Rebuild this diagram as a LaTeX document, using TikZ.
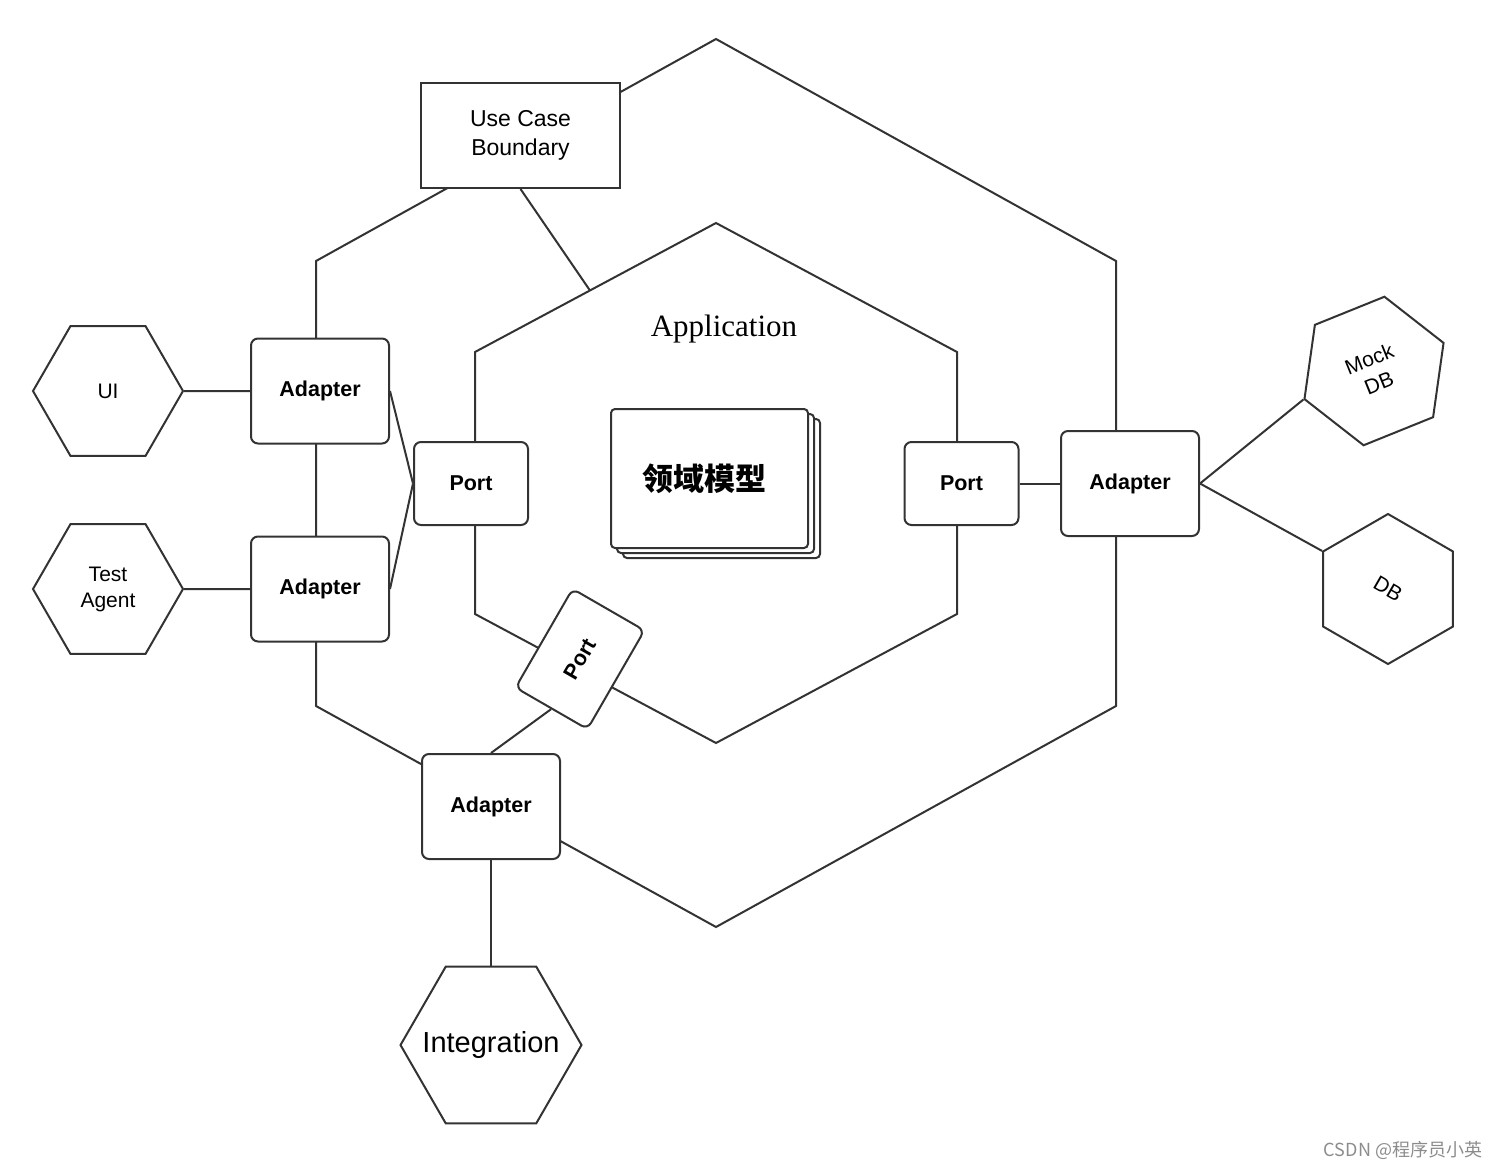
\documentclass[tikz,border=0pt]{standalone}
\usepackage{fontspec}
\setmainfont{Liberation Sans}
\newfontfamily\appfont{Liberation Serif}
\newfontfamily\cjk{Noto Sans CJK SC}
\usetikzlibrary{shapes.geometric,calc}
\definecolor{edge}{HTML}{333333}
\definecolor{mark}{HTML}{8C8C8C}

\begin{document}
\begin{tikzpicture}[x=1pt,y=-1pt,line width=2pt,draw=edge,
  adapterbox/.style={draw=edge,fill=white,rounded corners=7pt,inner sep=0pt,
    minimum width=138pt,minimum height=105pt,font=\fontsize{21.5}{25}\selectfont\bfseries},
  portbox/.style={adapterbox,minimum width=114pt,minimum height=83pt},
  hexnode/.style={draw=edge,fill=white,regular polygon,regular polygon sides=6,
    inner sep=0pt,minimum size=150pt,align=center,font=\fontsize{21}{26}\selectfont},
  card/.style={draw=edge,fill=white,rounded corners=4pt}]

  \useasboundingbox (0,0) rectangle (1503,1169);

  % Outer hexagon (adapters sit on it)
  \coordinate (otop) at (716,39);
  \coordinate (our) at (1116,261);
  \coordinate (olr) at (1116,706);
  \coordinate (obot) at (716,927);
  \coordinate (oll) at (316,706);
  \coordinate (oul) at (316,261);
  \draw (otop) -- (our) -- (olr) -- (obot) -- (oll) -- (oul) -- cycle;

  % Inner hexagon (application, ports sit on it)
  \coordinate (itop) at (716,223);
  \coordinate (iur) at (957,352);
  \coordinate (ilr) at (957,614);
  \coordinate (ibot) at (716,743);
  \coordinate (ill) at (475,614);
  \coordinate (iul) at (475,352);
  \draw (itop) -- (iur) -- (ilr) -- (ibot) -- (ill) -- (iul) -- cycle;
  \coordinate (ucbfoot) at ($(iul)!0.477!(itop)$);

  \node[font=\appfont\fontsize{31}{36}\selectfont] (app) at (724,329) {Application};

  % Domain model (stack of cards)
  \draw[card] (623,419) rectangle (820,558);
  \draw[card] (617,414) rectangle (814,553);
  \node[card,minimum width=197pt,minimum height=139pt,inner sep=0pt,
    font=\cjk\bfseries\fontsize{31}{36}\selectfont] (model) at (709.5,478.5)
    {\hspace*{-10pt}\raisebox{-2pt}{领域模型}};

  % Use case boundary
  \node[draw=edge,fill=white,minimum width=199pt,minimum height=105pt,inner sep=0pt,
    align=center,font=\fontsize{23}{29}\selectfont] (ucb) at (520.5,135.5)
    {\raisebox{-5pt}{Use Case}\\\raisebox{-5pt}{Boundary}};
  \draw (ucb.south) -- (ucbfoot);

  % Ports
  \node[portbox] (portl) at (471,483.5) {Port};
  \node[portbox] (portr) at (961.5,483.5) {Port};
  \node[portbox,rotate=60] (portb) at (580,659) {Port};

  % Adapters
  \node[adapterbox] (adul) at (320,391) {Adapter};
  \node[adapterbox] (adll) at (320,589) {Adapter};
  \node[adapterbox] (adr) at (1130,483.5) {Adapter};
  \node[adapterbox] (adb) at (491,806.5) {Adapter};

  % Outside actors
  \node[hexnode] (ui) at (108,391) {UI};
  \node[hexnode] (agent) at (108,589) {Test\\Agent};
  \node[hexnode,rotate=22] (mock) at (1374,371) {Mock\\DB};
  \node[hexnode,rotate=-30] (db) at (1388,589) {DB};
  \node[hexnode,minimum size=181pt,font=\fontsize{29}{34}\selectfont] (integ) at (491,1045)
    {\makebox[0pt]{\raisebox{-5pt}{Integration}}};

  % Connectors
  \draw (ui.east) -- (adul.west);
  \draw (agent.east) -- (adll.west);
  \draw (adul.east) -- (portl.west);
  \draw (adll.east) -- (portl.west);
  \draw (portr.east) -- (adr.west);
  \draw (adr.east) -- (mock.west);
  \draw (adr.east) -- (db.west);
  \draw (portb.west) -- (adb.north);
  \draw (adb.south) -- (integ.north);

  \node[text=mark,font=\cjk\fontsize{18}{22}\selectfont] (wm) at (1403,1150) {CSDN @程序员小英};

\end{tikzpicture}
\end{document}
